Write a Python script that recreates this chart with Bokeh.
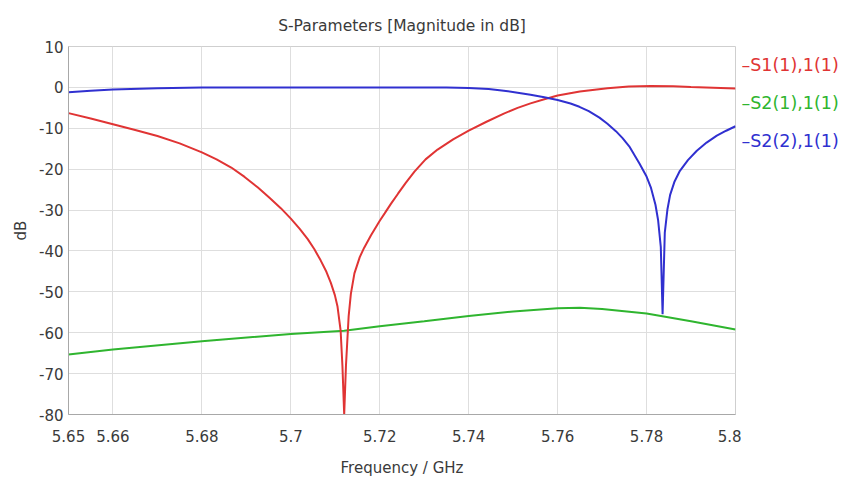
from bokeh.plotting import figure
from bokeh.models import Range1d, FixedTicker
from bokeh.layouts import row
from bokeh.core.properties import value
from bokeh.embed import file_html
from bokeh.resources import INLINE

# ---- data ----
s11_f = [5.65, 5.655, 5.66, 5.665, 5.67, 5.675, 5.68, 5.6833, 5.6866, 5.6896,
         5.6926, 5.6952, 5.6978, 5.70, 5.702, 5.7038, 5.7053, 5.7067, 5.708,
         5.709, 5.7099, 5.7105, 5.7112, 5.7116, 5.712, 5.7124, 5.713, 5.7135,
         5.7143, 5.7155, 5.7165, 5.718, 5.72, 5.7211, 5.7225, 5.7241, 5.7258,
         5.7278, 5.7303, 5.733, 5.7365, 5.74, 5.744, 5.7479, 5.751, 5.7539,
         5.757, 5.76, 5.765, 5.7712, 5.776, 5.781, 5.786, 5.79, 5.795, 5.8]
s11_db = [-6.3, -7.6, -9.0, -10.4, -11.9, -13.7, -15.9, -17.6, -19.6, -21.9,
          -24.5, -27.0, -29.6, -32.1, -34.6, -37.1, -39.6, -42.3, -45.1,
          -47.8, -50.8, -53.6, -59.5, -68.0, -80.0, -68.0, -56.0, -50.5,
          -45.5, -41.5, -39.2, -36.2, -32.6, -30.8, -28.5, -26.0, -23.4,
          -20.6, -17.6, -15.2, -12.7, -10.6, -8.4, -6.4, -5.0, -3.9,
          -2.9, -2.0, -1.0, -0.2, 0.2, 0.35, 0.3, 0.1, -0.1, -0.3]

s21_f = [5.65, 5.66, 5.68, 5.70, 5.712, 5.72, 5.73, 5.74, 5.75, 5.76, 5.765,
         5.77, 5.78, 5.79, 5.8]
s21_db = [-65.3, -64.1, -62.1, -60.3, -59.5, -58.4, -57.2, -55.9, -54.8, -54.0, -53.9,
          -54.2, -55.3, -57.2, -59.2]

s22_f = [5.65, 5.655, 5.66, 5.67, 5.68, 5.70, 5.72, 5.735, 5.74, 5.7445, 5.7479,
         5.751, 5.7539, 5.757, 5.76, 5.7629, 5.7649, 5.767, 5.7694, 5.7712,
         5.7731, 5.7746, 5.7761, 5.7784, 5.78, 5.781, 5.782, 5.7826, 5.7832,
         5.7836, 5.7841, 5.7847, 5.7853, 5.7863, 5.7875, 5.7893, 5.7913, 5.7935,
         5.7958, 5.7979, 5.8]
s22_db = [-1.2, -0.8, -0.5, -0.2, -0.05, 0.0, 0.0, -0.05, -0.15, -0.4, -0.8,
          -1.3, -1.8, -2.4, -3.1, -3.95, -4.75, -5.8, -7.4, -8.9,
          -10.7, -12.4, -14.4, -18.6, -21.8, -24.6, -28.7, -32.5, -39.0,
          -55.5, -35.5, -29.8, -26.3, -23.0, -20.4, -17.8, -15.5, -13.5,
          -11.8, -10.6, -9.5]

x_ticks = [5.65, 5.66, 5.68, 5.70, 5.72, 5.74, 5.76, 5.78, 5.80]
x_tick_labels = ["5.65", "5.66", "5.68", "5.7", "5.72", "5.74", "5.76", "5.78", "5.8"]
y_ticks = [10, 0, -10, -20, -30, -40, -50, -60, -70, -80]
y_tick_labels = ["10", "0", "-10", "-20", "-30", "-40", "-50", "-60", "-70", "-80"]

series_names = ["S1(1),1(1)", "S2(1),1(1)", "S2(2),1(1)"]
series_colors = ["#e03434", "#2fb52f", "#3030d0"]

title_text = "S-Parameters [Magnitude in dB]"
x_label = "Frequency / GHz"
y_label = "dB"

FONT = "DejaVu Sans"
TXT = "#3a3a3a"

W, H = 846, 489
LEG_W = 105
L, R, T, B = 68, 6, 46, 75
MAIN_W = W - LEG_W

p = figure(width=MAIN_W, height=H, output_backend="svg", toolbar_location=None,
           x_range=Range1d(5.65, 5.8), y_range=Range1d(-80, 10),
           min_border_left=L, min_border_right=R, min_border_top=T,
           min_border_bottom=B, background_fill_color="white",
           border_fill_color="white", outline_line_color="#cfcfcf")

p.title.text = title_text
p.title.align = "center"
p.title.text_font = FONT
p.title.text_font_size = "15.5px"
p.title.text_font_style = "normal"
p.title.text_color = TXT
p.title.standoff = 23

p.xaxis.ticker = FixedTicker(ticks=x_ticks)
p.xaxis.major_label_overrides = {t: s for t, s in zip(x_ticks, x_tick_labels)}
p.yaxis.ticker = FixedTicker(ticks=y_ticks)
p.yaxis.major_label_overrides = {t: s for t, s in zip(y_ticks, y_tick_labels)}

for ax in (p.xaxis[0], p.yaxis[0]):
    ax.major_tick_out = 0
    ax.major_tick_in = 0
    ax.minor_tick_out = 0
    ax.minor_tick_in = 0
    ax.axis_line_color = "#a8a8a8"
    ax.major_label_text_font = FONT
    ax.major_label_text_font_size = "15px"
    ax.major_label_text_color = TXT
    ax.axis_label_text_font = FONT
    ax.axis_label_text_font_size = "15px"
    ax.axis_label_text_font_style = "normal"
    ax.axis_label_text_color = TXT

p.xaxis.axis_label = x_label
p.xaxis.major_label_standoff = 15
p.xaxis.axis_label_standoff = 14
p.yaxis.axis_label = y_label
p.yaxis.major_label_standoff = 5
p.yaxis.axis_label_standoff = 6

p.xgrid.ticker = FixedTicker(ticks=x_ticks)
p.ygrid.ticker = FixedTicker(ticks=y_ticks)
p.xgrid.grid_line_color = "#dedede"
p.ygrid.grid_line_color = "#dedede"

p.line(s21_f, s21_db, line_color=series_colors[1], line_width=2)
p.line(s11_f, s11_db, line_color=series_colors[0], line_width=2)
p.line(s22_f, s22_db, line_color=series_colors[2], line_width=2)

# legend panel: a separate figure on the right whose frame spans the same
# vertical pixels as the main plot frame; y values are pixels from the top
leg = figure(width=LEG_W, height=H, output_backend="svg", toolbar_location=None,
             x_range=Range1d(0, LEG_W), y_range=Range1d(H - B, T),
             min_border_left=0, min_border_right=0, min_border_top=T,
             min_border_bottom=B, outline_line_color=None,
             background_fill_color="white", border_fill_color="white")
leg.axis.visible = False
leg.grid.visible = False
leg.text(x=[0, 0, 0], y=[64, 102, 140],
         text=["\u2013" + n for n in series_names],
         text_color=series_colors, text_font=value(FONT),
         text_font_size="17.5px", text_align="left", text_baseline="middle")

layout = row(p, leg, spacing=0)
open("out.html", "w").write(file_html(layout, INLINE))
